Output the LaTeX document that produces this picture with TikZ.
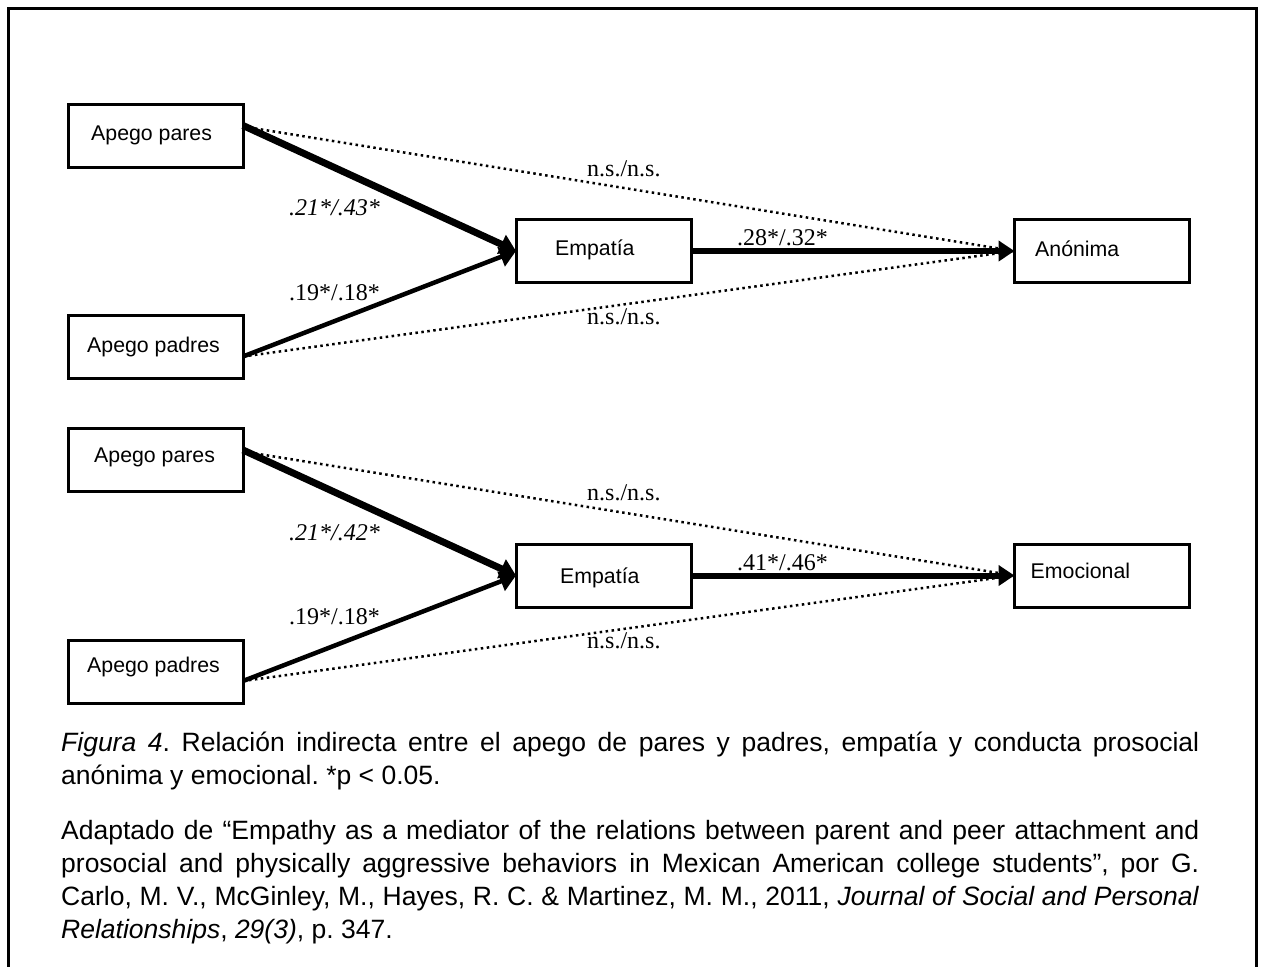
\documentclass[tikz,border=0pt]{standalone}
\usepackage{fontspec}
\setmainfont{Liberation Sans}
\newfontfamily\coeffont{Liberation Serif}
\usetikzlibrary{arrows.meta}
\frenchspacing
\begin{document}
\begin{tikzpicture}[x=1pt,y=-1pt,
  box/.style={draw, line width=3pt, minimum width=175pt, minimum height=63pt,
    inner sep=0pt, outer sep=0pt},
  boxtext/.style={anchor=base west, inner sep=0pt, font=\fontsize{21.3}{25}\selectfont},
  coef/.style={anchor=base west, inner sep=0pt, font=\coeffont\fontsize{24}{28}\selectfont},
  captext/.style={anchor=base west, inner sep=0pt, font=\fontsize{26.5}{33}\selectfont},
  tip/.style={-{Triangle[length=16pt,width=20pt]}},
  pathline/.style={tip, line width=#1},
  nsline/.style={line width=2.5pt, dash pattern=on 2.5pt off 3.5pt},
]
\clip (0,0) rectangle (1262,967);

% outer frame (open at the bottom)
\draw[line width=3pt] (8.5,990) -- (8.5,8.5) -- (1256.5,8.5) -- (1256.5,990);

% ---------- model 1: anonymous prosocial behaviour ----------
\node[box] (ap1) at (155.5,135.5) {};
\node[box] (pa1) at (155.5,346.5) {};
\node[box] (em1) at (603.5,251) {};
\node[box] (an)  at (1102,251) {};

\node[boxtext] (ap1t) at (91,140) {Apego pares};
\node[boxtext] (pa1t) at (87,352.5) {Apego padres};
\node[boxtext] (em1t) at (555,255) {Empatía};
\node[boxtext] (ant)  at (1035,256.5) {Anónima};

\draw[nsline] ([yshift=9pt]ap1.east) -- (an.west);
\draw[nsline] ([yshift=-10pt]pa1.east) -- (an.west);
\draw[pathline=7pt] ([yshift=10pt]ap1.east) -- (em1.west);
\draw[pathline=4.5pt] ([yshift=-10pt]pa1.east) -- (em1.west);
\draw[pathline=6pt] (em1.east) -- (an.west);

\node[coef] (ns1) at (587,176) {n.s./n.s.};
\node[coef] (c11) at (289,215) {\itshape .21*/.43*};
\node[coef] (c12) at (289,300) {.19*/.18*};
\node[coef] (c13) at (737,245) {.28*/.32*};
\node[coef] (ns2) at (587,324) {n.s./n.s.};

% ---------- model 2: emotional prosocial behaviour ----------
\node[box] (ap2) at (155.5,459.5) {};
\node[box] (pa2) at (155.5,671.5) {};
\node[box] (em2) at (603.5,575.5) {};
\node[box] (emo) at (1102,575.5) {};

\node[boxtext] (ap2t) at (94,462.7) {Apego pares};
\node[boxtext] (pa2t) at (87,672.3) {Apego padres};
\node[boxtext] (em2t) at (560,583.7) {Empatía};
\node[boxtext] (emot) at (1030.5,578) {Emocional};

\draw[nsline] ([yshift=8pt]ap2.east) -- (emo.west);
\draw[nsline] ([yshift=-9.5pt]pa2.east) -- (emo.west);
\draw[pathline=7pt] ([yshift=9.5pt]ap2.east) -- (em2.west);
\draw[pathline=4.5pt] ([yshift=-9.5pt]pa2.east) -- (em2.west);
\draw[pathline=6pt] (em2.east) -- (emo.west);

\node[coef] (ns3) at (587,500) {n.s./n.s.};
\node[coef] (c21) at (289,540) {\itshape .21*/.42*};
\node[coef] (c22) at (289,624) {.19*/.18*};
\node[coef] (c23) at (737,570) {.41*/.46*};
\node[coef] (ns4) at (587,648) {n.s./n.s.};

% ---------- caption ----------
\node[captext] (cap1) at (61,751.5) {\makebox[1138pt][s]{\textit{Figura 4}. Relación indirecta entre el apego de pares y padres, empatía y conducta prosocial}};
\node[captext] (cap2) at (61,784.5) {anónima y emocional. *p < 0.05.};

\node[captext] (src1) at (61,839.5) {\makebox[1138pt][s]{Adaptado de “Empathy as a mediator of the relations between parent and peer attachment and}};
\node[captext] (src2) at (61,872.5) {\makebox[1138pt][s]{prosocial and physically aggressive behaviors in Mexican American college students”, por G.}};
\node[captext] (src3) at (61,905.5) {\makebox[1138pt][s]{Carlo, M. V., McGinley, M., Hayes, R. C. \& Martinez, M. M., 2011, \textit{Journal of Social and Personal}}};
\node[captext] (src4) at (61,938.5) {\textit{Relationships}, \textit{29(3)}, p. 347.};
\end{tikzpicture}
\end{document}
